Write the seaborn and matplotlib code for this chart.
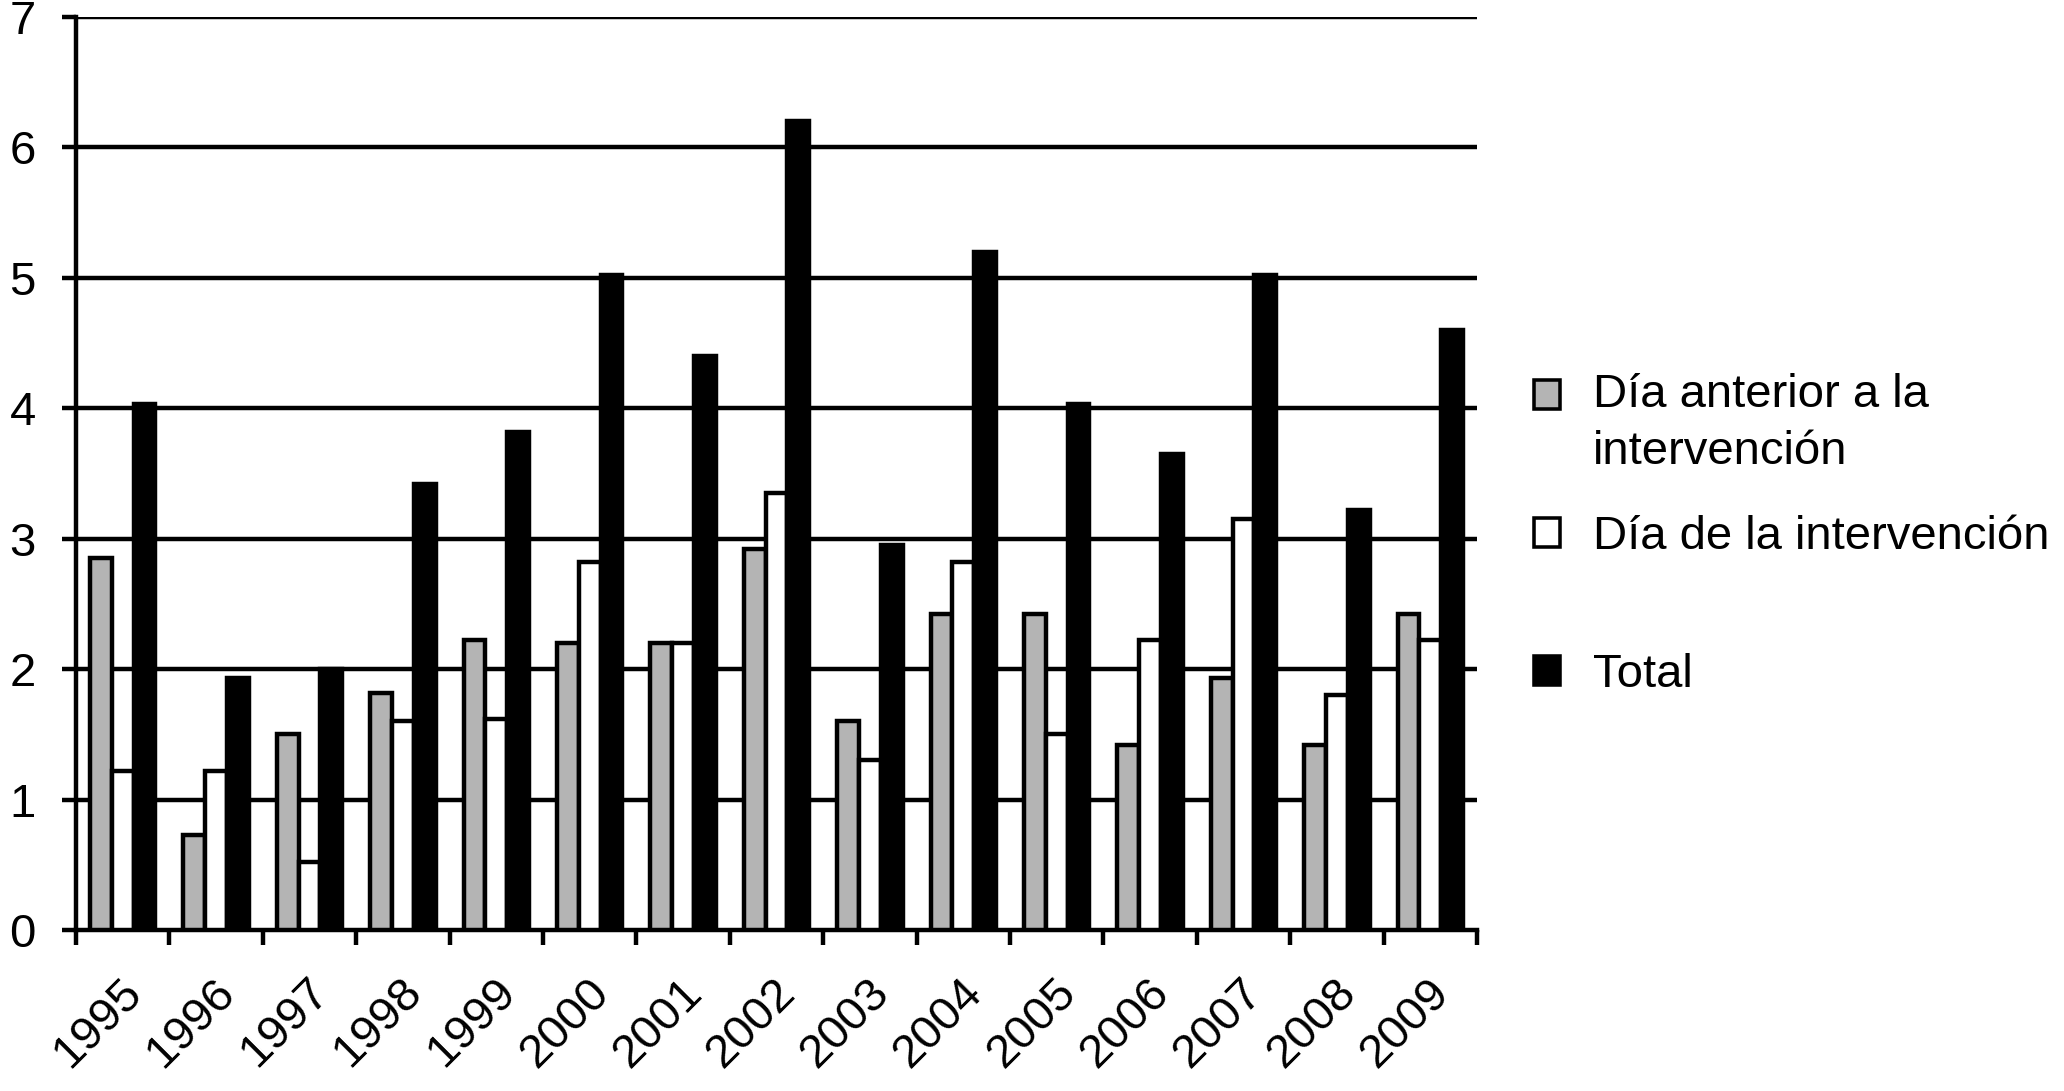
import pandas as pd
import seaborn as sns
from matplotlib import pyplot as plt
from matplotlib.patches import Patch, Rectangle
from matplotlib.legend_handler import HandlerPatch
from matplotlib.ticker import FixedLocator
from matplotlib.transforms import ScaledTranslation

# ---- data ----
years = [str(y) for y in range(1995, 2010)]
dia_anterior = [2.85, 0.73, 1.5, 1.82, 2.22, 2.2, 2.2, 2.92, 1.6, 2.42, 2.42, 1.42, 1.93, 1.42, 2.42]
dia_intervencion = [1.22, 1.22, 0.52, 1.6, 1.62, 2.82, 2.2, 3.35, 1.3, 2.82, 1.5, 2.22, 3.15, 1.8, 2.22]
total = [4.03, 1.93, 2.0, 3.42, 3.82, 5.02, 4.4, 6.2, 2.95, 5.2, 4.03, 3.65, 5.02, 3.22, 4.6]
series_names = ['Día anterior a la\nintervención', 'Día de la intervención', 'Total']
series_colors = ['#b4b4b4', '#ffffff', '#000000']

sns.set_theme(style='white')
plt.rcParams['font.family'] = ['Liberation Sans', 'DejaVu Sans']
plt.rcParams['text.color'] = 'black'
plt.rcParams['xtick.color'] = 'black'
plt.rcParams['ytick.color'] = 'black'

FS = 34
LW = 3.2

df = pd.concat([
    pd.DataFrame({'year': years, 'serie': name, 'value': vals})
    for name, vals in zip(series_names, [dia_anterior, dia_intervencion, total])
])

fig = plt.figure(figsize=(20.64, 10.91), dpi=100)
ax = fig.add_axes([0.0368, 0.1476, 0.6788, 0.8368])

sns.barplot(data=df, x='year', y='value', hue='serie', hue_order=series_names,
            palette=series_colors, width=0.7, gap=0, edgecolor='black', linewidth=LW,
            legend=False, ax=ax, zorder=3)

ax.set_xlim(-0.5, len(years) - 0.5)
ax.set_ylim(0, 7)
ax.set_yticks(range(8))
for y in range(1, 8):
    ax.axhline(y, color='black', lw=LW, zorder=1)

# x ticks at the category boundaries, labels at centers
ax.xaxis.set_minor_locator(FixedLocator([i - 0.5 for i in range(len(years) + 1)]))
ax.tick_params(axis='x', which='major', length=0, pad=16, labelsize=FS)
ax.tick_params(axis='x', which='minor', length=11, width=LW, direction='out', bottom=True)
ax.tick_params(axis='y', length=10, width=LW, pad=19, labelsize=FS, left=True)
shift = ScaledTranslation(-0.03, -0.18, fig.dpi_scale_trans)
for lab in ax.get_xticklabels():
    lab.set_rotation(45)
    lab.set_ha('right')
    lab.set_rotation_mode('anchor')
    lab.set_transform(lab.get_transform() + shift)

ax.set_xlabel('')
ax.set_ylabel('')
for s in ['top', 'right']:
    ax.spines[s].set_visible(False)
for s in ['left', 'bottom']:
    ax.spines[s].set_color('black')
    ax.spines[s].set_linewidth(LW)


def first_line_patch(legend, orig_handle, xdescent, ydescent, width, height, fontsize):
    # square sits next to the first line of a two-line label
    return Rectangle((-xdescent, -ydescent + 0.62 * fontsize), width, height)


legend_y = [0.612, 0.5075, 0.381]
for name, color, ly in zip(series_names, series_colors, legend_y):
    h = Patch(facecolor=color, edgecolor='black', linewidth=LW * 0.8)
    hmap = {h: HandlerPatch(patch_func=first_line_patch)} if '\n' in name else None
    leg = fig.legend([h], [name], loc='center left', bbox_to_anchor=(0.743, ly),
                     frameon=False, fontsize=FS, handlelength=0.56, handleheight=0.56,
                     handletextpad=0.7, borderpad=0, borderaxespad=0, handler_map=hmap)
    leg.get_texts()[0].set_linespacing(1.38)

plt.savefig('out.png', dpi=100)
plt.close(fig)
